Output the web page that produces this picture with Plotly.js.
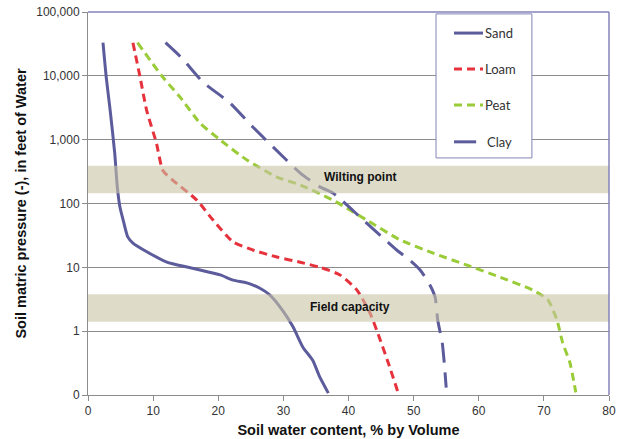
<!DOCTYPE html>
<html>
<head>
<meta charset="utf-8">
<script src="https://cdn.plot.ly/plotly-3.0.1.min.js"></script>
<style>html,body{margin:0;padding:0;background:#fff;}#chart{width:623px;height:439px;}</style>
</head>
<body>
<div id="chart"></div>
<script>
// Soil water content (% by volume) vs matric pressure (feet of water)
const sandX = [2.3, 2.8, 3.4, 4.1, 4.5, 4.9, 5.4, 6.1, 6.9, 9.1, 12.1, 15.2, 17.2, 20.3, 22.3, 24.4, 26.4, 27.9, 29.9, 31.5, 33.0, 34.5, 35.6, 36.9];
const sandY = [33000, 9500, 2900, 620, 180, 88, 55, 30, 24, 17.4, 12.1, 10.1, 9.1, 7.6, 6.3, 5.7, 4.7, 3.7, 2.1, 1.16, 0.56, 0.35, 0.19, 0.107];

const loamX = [6.9, 8.0, 9.0, 10.5, 11.5, 13.0, 16.7, 19.2, 22.3, 25.3, 29.0, 32.6, 35.6, 38.7, 41.3, 43.3, 44.5, 46.1, 47.6];
const loamY = [33000, 9500, 2900, 890, 330, 233, 113, 55, 25, 18.7, 14.5, 12, 10, 7.6, 4.4, 1.92, 0.93, 0.32, 0.11];

const peatX = [7.6, 11.5, 14.1, 17.2, 20.3, 24.4, 29.0, 32.6, 37.6, 42.8, 47.9, 53.0, 58.2, 63.3, 68.3, 70.6, 72.0, 72.9, 74.0, 74.9];
const peatY = [33000, 9500, 4700, 1820, 990, 480, 260, 195, 113, 55, 27, 16.7, 10.8, 7.0, 4.4, 3.1, 1.5, 0.65, 0.32, 0.11];

const clayX = [11.9, 14.4, 17.7, 21.8, 25.3, 28.4, 32.6, 35.6, 37.6, 41.8, 45.3, 47.4, 49.4, 51.0, 52.5, 53.3, 53.7, 54.4, 54.7, 55.0];
const clayY = [33000, 19000, 7900, 3760, 1580, 770, 300, 182, 146, 61, 29, 18.7, 13, 9.1, 5.3, 3.4, 1.5, 0.65, 0.32, 0.13];

const seriesNames = ['Sand', 'Loam', 'Peat', 'Clay'];

const yTickVals = [0.1, 1, 10, 100, 1000, 10000, 100000];
const yTickText = ["0", "1", "10", "100", "1,000", "10,000", "100,000"];

const wiltingBand = [145, 390];
const fieldBand = [1.4, 3.8];

const slate = '#5c5c9c';
const styles = [
  {color: slate, width: 3},
  {color: '#e6323c', width: 3, dash: '8px,5px'},
  {color: '#9acb38', width: 3, dash: '8px,5px'},
  {color: slate, width: 3, dash: '20px,10px'}
];
const xs = [sandX, loamX, peatX, clayX];
const ys = [sandY, loamY, peatY, clayY];

const traces = seriesNames.map((n, i) => ({
  x: xs[i], y: ys[i], name: n, mode: 'lines', showlegend: false,
  line: Object.assign({shape: 'spline', smoothing: 0.6}, styles[i])
}));

// manual legend (box, samples, labels) in paper coordinates
const legBox = {x0: 0.668, x1: 0.852, y0: 0.619, y1: 0.995};
const legRows = [0.945, 0.851, 0.757, 0.661];
const legendShapes = [
  {type: 'rect', xref: 'paper', yref: 'paper', x0: legBox.x0, x1: legBox.x1, y0: legBox.y0, y1: legBox.y1,
   fillcolor: '#fff', line: {color: '#8383b8', width: 1}, layer: 'above'}
].concat(seriesNames.map((n, i) => ({
  type: 'line', xref: 'paper', yref: 'paper', x0: 0.7025, x1: (i === 3 ? 0.745 : 0.7582), y0: legRows[i], y1: legRows[i],
  line: {color: styles[i].color, width: 3, dash: i === 3 ? 'solid' : (styles[i].dash || 'solid')}, layer: 'above'
})));
const legendAnn = seriesNames.map((n, i) => ({
  text: n, xref: 'paper', yref: 'paper', x: i === 3 ? 0.762 : 0.759, y: legRows[i], xanchor: 'left', yanchor: 'middle',
  showarrow: false, font: {family: 'Lato, Carlito, sans-serif', size: 13, color: '#333'}
}));

const layout = {
  width: 623, height: 439,
  margin: {l: 88, r: 14, t: 12, b: 44},
  paper_bgcolor: '#fff', plot_bgcolor: '#fff',
  font: {family: 'Liberation Sans, Arial, sans-serif', size: 12, color: '#333'},
  showlegend: false,
  xaxis: {
    range: [0, 80], dtick: 10, tick0: 0,
    showgrid: false, zeroline: false,
    showline: true, linecolor: '#8c8c8c', linewidth: 1,
    ticks: 'outside', ticklen: 5, tickcolor: '#8c8c8c',
    tickfont: {size: 12, color: '#333'},
    title: {text: 'Soil water content, % by Volume', font: {size: 14.5, color: '#111', weight: 'bold'}, standoff: 7}
  },
  yaxis: {
    type: 'log', range: [-1, 5],
    tickvals: yTickVals, ticktext: yTickText,
    showgrid: true, gridcolor: '#8c8c8c', gridwidth: 1,
    zeroline: false,
    showline: true, linecolor: '#8c8c8c', linewidth: 1,
    ticks: 'outside', ticklen: 5, tickcolor: '#8c8c8c',
    tickfont: {size: 12, color: '#333'},
    title: {text: 'Soil matric pressure (-), in feet of Water', font: {size: 14.5, color: '#111', weight: 'bold'}, standoff: 6}
  },
  shapes: [
    {type: 'rect', xref: 'paper', yref: 'y', x0: 0, x1: 1, y0: wiltingBand[0], y1: wiltingBand[1], fillcolor: 'rgb(200,195,165)', opacity: 0.6, line: {width: 0}, layer: 'above'},
    {type: 'rect', xref: 'paper', yref: 'y', x0: 0, x1: 1, y0: fieldBand[0], y1: fieldBand[1], fillcolor: 'rgb(200,195,165)', opacity: 0.6, line: {width: 0}, layer: 'above'},
    {type: 'line', xref: 'paper', yref: 'paper', x0: 0, x1: 1, y0: 1, y1: 1, line: {color: '#8383b8', width: 1.5}, layer: 'above'},
    {type: 'line', xref: 'paper', yref: 'paper', x0: 1, x1: 1, y0: 0, y1: 1, line: {color: '#8383b8', width: 1.5}, layer: 'above'}
  ].concat(legendShapes),
  annotations: [
    {text: '<b>Wilting point</b>', xref: 'x', yref: 'y', x: 35.9, y: Math.log10(260), xanchor: 'left', yanchor: 'middle', showarrow: false, font: {size: 12, color: '#111'}},
    {text: '<b>Field capacity</b>', xref: 'x', yref: 'y', x: 33.8, y: Math.log10(2.4), xanchor: 'left', yanchor: 'middle', showarrow: false, font: {size: 12, color: '#111'}}
  ].concat(legendAnn)
};

Plotly.newPlot('chart', traces, layout, {displayModeBar: false, staticPlot: true});
</script>
</body>
</html>
